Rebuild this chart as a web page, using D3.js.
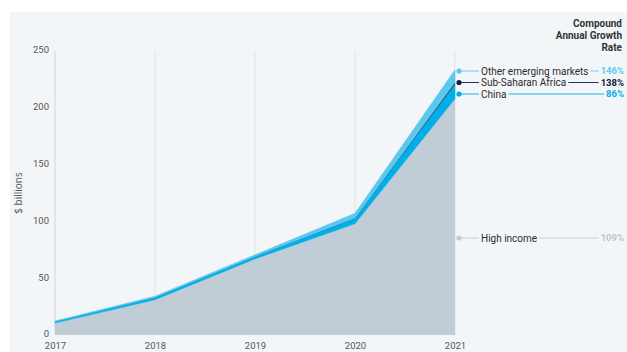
<!DOCTYPE html>
<head>
  <meta charset="utf-8">
  <script src="https://d3js.org/d3.v7.min.js"></script>
  <style>
    body { margin: 0; background: #fff; font-family: 'Open Sans', sans-serif; }
    text { fill: #333; }
    .tick text { font-size: 9.5px; fill: #555; font-family: Roboto, sans-serif; }
    .legend { font-size: 10px; fill: #2b2b2b; font-family: Roboto, sans-serif; }
    .pct { font-size: 9.5px; font-weight: 700; font-family: Roboto, sans-serif; }
    .hdr { font-size: 10px; font-weight: 700; fill: #333; font-family: Roboto, sans-serif; }
  </style>
</head>
<body>
<div id="chart"></div>
<script>

// ---- data ($ billions) ----
const years = [2017, 2018, 2019, 2020, 2021];
const highIncome = [10.5, 31, 67, 98, 208];
const china = [1.3, 2, 2, 4.5, 13];
const subSaharan = [0.1, 0.2, 0.3, 0.6, 1.5];
const otherEmerging = [0.4, 0.9, 1.3, 4, 11];
const yTicks = [0, 50, 100, 150, 200, 250];

const seriesNames = ["High income", "China", "Sub-Saharan Africa", "Other emerging markets"];
const seriesKeys = ["hi", "china", "ssa", "other"];
const growth = { hi: "109%", china: "86%", ssa: "138%", other: "146%" };
const colors = { hi: "#c0cdd6", china: "#00aee8", ssa: "#0d2240", other: "#5bc8ee" };
const pctColors = { hi: "#b8c6d0", china: "#00aee8", ssa: "#0d2240", other: "#5bc8ee" };

const rows = years.map((y, i) => ({
  year: y, hi: highIncome[i], china: china[i], ssa: subSaharan[i], other: otherEmerging[i]
}));

///////////////////////////////////////////////////////////////////////////
// svg

const W = 627, H = 352;
const svg = d3.select("#chart").append("svg")
  .attr("width", W).attr("height", H);

svg.append("rect").attr("x", 10).attr("y", 12)
  .attr("width", W - 10).attr("height", H - 12).attr("fill", "#f3f6f9");

const x = d3.scaleLinear().domain([2017, 2021]).range([55, 455]);
const y = d3.scaleLinear().domain([0, 250]).range([335, 51]);

// vertical grid lines
svg.append("g").selectAll("line")
  .data(years)
  .enter().append("line")
  .attr("x1", d => x(d)).attr("x2", d => x(d))
  .attr("y1", y(250)).attr("y2", y(0))
  .attr("stroke", d => d === 2017 ? "#cfd5db" : "#dfe3e7")
  .attr("stroke-width", 1);

// stacked areas
const stack = d3.stack().keys(seriesKeys);
const layers = stack(rows);

const area = d3.area()
  .x(d => x(d.data.year))
  .y0(d => y(d[0]))
  .y1(d => y(d[1]));

svg.append("g").selectAll("path")
  .data(layers)
  .enter().append("path")
  .attr("d", area)
  .attr("fill", d => colors[d.key])
  .attr("stroke", d => (d.key === "china" || d.key === "other") ? colors[d.key] : "none")
  .attr("stroke-width", 0.5);

// x axis
const xAxis = svg.append("g")
  .attr("transform", `translate(0,${y(0)})`)
  .call(d3.axisBottom(x).tickValues(years).tickFormat(d3.format("d")).tickSize(0).tickPadding(7));
xAxis.select(".domain").remove();

// y axis
const yAxis = svg.append("g")
  .attr("transform", `translate(${x(2017) - 6},0)`)
  .call(d3.axisLeft(y).tickValues(yTicks).tickSize(0).tickPadding(0));
yAxis.select(".domain").remove();
yAxis.selectAll(".tick text").attr("dy", "0.2em");

svg.append("text")
  .attr("transform", `translate(22,${y(125)}) rotate(-90)`)
  .attr("text-anchor", "middle")
  .style("font-size", "10px").style("fill", "#555")
  .text("$ billions");

// header
const hdr = ["Compound", "Annual Growth", "Rate"];
svg.append("g").selectAll("text")
  .data(hdr)
  .enter().append("text")
  .attr("class", "hdr")
  .attr("x", 622).attr("y", (d, i) => 27 + i * 12)
  .attr("text-anchor", "end")
  .text(d => d);

// legend at the right of the chart
const labelY = { hi: 238, china: 94, ssa: 82.5, other: 71 };

const lg = svg.append("g");
seriesKeys.forEach((k, i) => {
  const yy = labelY[k];
  const c = colors[k];
  const lbl = lg.append("text").attr("class", "legend")
    .attr("x", 481).attr("y", yy + 3.5)
    .text(seriesNames[i]);
  const pct = lg.append("text").attr("class", "pct")
    .attr("x", 624).attr("y", yy + 3.4)
    .attr("text-anchor", "end")
    .style("fill", pctColors[k])
    .text(growth[k]);
  const lw = lbl.node().getComputedTextLength();
  const pw = pct.node().getComputedTextLength();
  lg.append("line").attr("x1", 459).attr("x2", 479).attr("y1", yy).attr("y2", yy)
    .attr("stroke", c).attr("stroke-width", 0.9);
  lg.append("line").attr("x1", 481 + lw + 2).attr("x2", 624 - pw - 2)
    .attr("y1", yy).attr("y2", yy)
    .attr("stroke", c).attr("stroke-width", 0.9);
  lg.append("circle").attr("cx", 459).attr("cy", yy).attr("r", 2.6).attr("fill", c);
});

</script>
</body>
